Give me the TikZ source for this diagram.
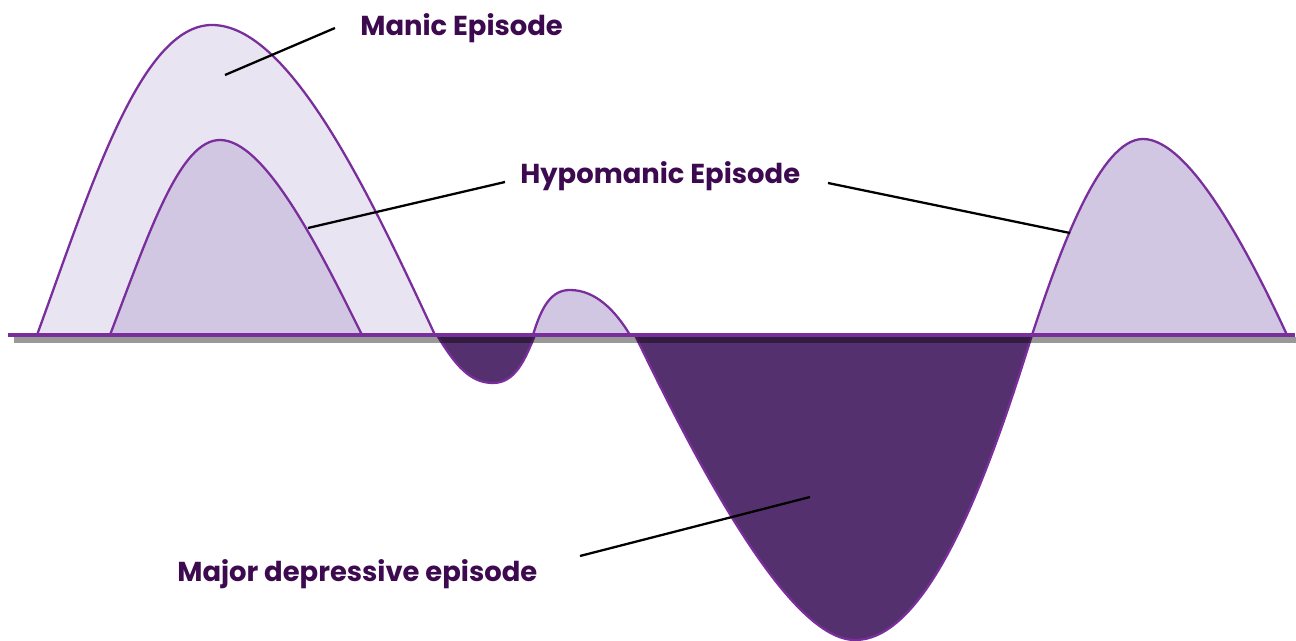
\documentclass[tikz,border=0pt]{standalone}
\usepackage{fontspec}
\setmainfont{Poppins}
\usepackage{xcolor}
\usetikzlibrary{calc,positioning}
\definecolor{EpiStroke}{HTML}{7A2E9C}
\definecolor{EpiLight}{HTML}{E8E4F2}
\definecolor{EpiMid}{HTML}{D2C7E3}
\definecolor{EpiDark}{HTML}{55306E}
\definecolor{EpiText}{HTML}{3D0A50}
\tikzset{
  epimania/.style={draw=EpiStroke, fill=EpiLight, line width=1.3pt},
  epihypo/.style={draw=EpiStroke, fill=EpiMid, line width=1.3pt},
  epidep/.style={draw=EpiStroke, fill=EpiDark, line width=1.3pt},
  epilabel/.style={text=EpiText, font=\bfseries\fontsize{15.6}{17}\selectfont, inner sep=0pt},
  epileader/.style={draw=black, line width=1.3pt}
}

\begin{document}
\begin{tikzpicture}[x=0.02cm, y=-0.02cm]
  \useasboundingbox (0,0) rectangle (1296,641);
  % humps above the line
  \path[epimania] (37,335) .. controls (90,190) and (140,25) .. (212,25)
    .. controls (290,25) and (370,195) .. (435,335) -- cycle;
  \path[epihypo] (110,335) .. controls (150,230) and (180,140) .. (220,140)
    .. controls (265,140) and (320,250) .. (362,335) -- cycle;
  \path[epihypo] (533,335) .. controls (542,305) and (552,290) .. (570,290)
    .. controls (595,290) and (615,310) .. (630,335) -- cycle;
  \path[epihypo] (1032,335) .. controls (1060,250) and (1100,139) .. (1143,139)
    .. controls (1190,139) and (1250,255) .. (1287,335) -- cycle;
  % dips below the line
  \path[epidep] (437,335) .. controls (455,365) and (470,383) .. (493,383)
    .. controls (515,383) and (525,360) .. (535,335) -- cycle;
  \path[epidep] (635,335) .. controls (700,470) and (790,640) .. (855,640)
    .. controls (930,640) and (990,470) .. (1032,335) -- cycle;
  % time axis with its shadow
  \draw[black, opacity=0.4, line width=3pt] (14,340) -- (1296,340);
  \draw[EpiStroke, line width=2.2pt] (8,335) -- (1295,335);

  \node[epilabel, anchor=west] (manic) at (360,28) {Manic Episode};
  \node[epilabel, anchor=west] (hypo) at (520,176) {Hypomanic Episode};
  \node[epilabel, anchor=west] (major) at (177,574) {Major depressive episode};

  \coordinate (manicpt) at (225,75);
  \coordinate (manicend) at (335,28);
  \coordinate (hypoleftpt) at (308,228);
  \coordinate (hypoleftend) at (505,182);
  \coordinate (hyporightpt) at (1070,233);
  \coordinate (hyporightend) at (828,183);
  \coordinate (majorpt) at (810,497);
  \coordinate (majorend) at (580,556);
  \draw[epileader] (manicpt) -- (manicend);
  \draw[epileader] (hypoleftpt) -- (hypoleftend);
  \draw[epileader] (hyporightpt) -- (hyporightend);
  \draw[epileader] (majorpt) -- (majorend);
\end{tikzpicture}
\end{document}
